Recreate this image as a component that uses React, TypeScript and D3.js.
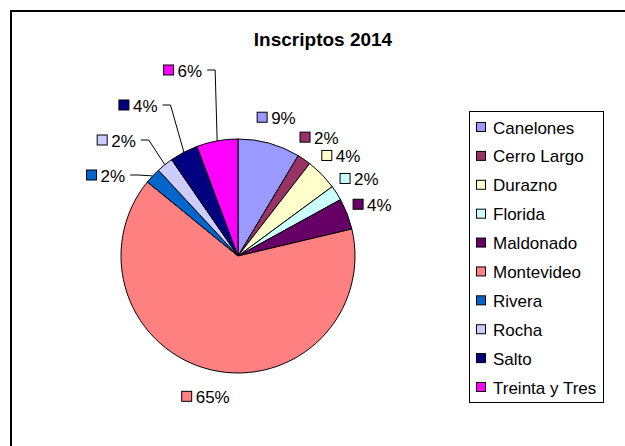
import { useEffect, useRef } from 'react'
import * as d3 from 'd3'

const title = 'Inscriptos 2014'
const departments = [
  'Canelones',
  'Cerro Largo',
  'Durazno',
  'Florida',
  'Maldonado',
  'Montevideo',
  'Rivera',
  'Rocha',
  'Salto',
  'Treinta y Tres',
]
const shares = [8.6, 1.9, 4.4, 2.1, 4.3, 64.6, 2.2, 2.3, 3.9, 5.7]
const colors = [
  '#9999FF',
  '#993366',
  '#FFFFCC',
  '#CCFFFF',
  '#660066',
  '#FF8080',
  '#0066CC',
  '#CCCCFF',
  '#000080',
  '#FF00FF',
]

const FONT = "Arial, 'Liberation Sans', sans-serif"

export default function App() {
  const ref = useRef<SVGSVGElement | null>(null)

  useEffect(() => {
    const node = ref.current
    if (!node) return
    const width = 625
    const height = 446
    const cx = 238
    const cy = 256
    const r = 117
    const svg = d3.select(node)
    svg.selectAll('*').remove()

    svg
      .append('rect')
      .attr('x', 11)
      .attr('y', 11)
      .attr('width', width + 20)
      .attr('height', height + 20)
      .attr('fill', '#fff')
      .attr('stroke', '#000')
      .attr('stroke-width', 2)

    svg
      .append('text')
      .attr('x', 323)
      .attr('y', 46)
      .attr('text-anchor', 'middle')
      .attr('font-family', FONT)
      .attr('font-weight', 'bold')
      .attr('font-size', 19)
      .text(title)

    const data = departments.map((name, i) => ({ name, value: shares[i], color: colors[i] }))
    const pie = d3
      .pie<{ name: string; value: number; color: string }>()
      .value((d) => d.value)
      .sort(null)
    const arcs = pie(data)
    const arc = d3.arc<d3.PieArcDatum<any>>().innerRadius(0).outerRadius(r)

    const g = svg.append('g').attr('transform', `translate(${cx},${cy})`)
    g.selectAll('path.slice')
      .data(arcs)
      .join('path')
      .attr('class', 'slice')
      .attr('d', arc as any)
      .attr('fill', (d) => d.data.color)
      .attr('stroke', '#000')
      .attr('stroke-width', 1)

    // labels: upper-left slices get stacked out to the side with leader lines
    const isLeader = (a: d3.PieArcDatum<any>) => (a.startAngle + a.endAngle) / 2 > (3 * Math.PI) / 2
    const nLeader = arcs.filter(isLeader).length
    let k = 0
    arcs.forEach((a) => {
      const mid = (a.startAngle + a.endAngle) / 2
      const leader = isLeader(a)
      let lx: number
      let ly: number
      if (leader) {
        const dist = r + 38 + 13 * k
        ly = -186 + 35 * (nLeader - 1 - k)
        lx = -Math.sqrt(dist * dist - ly * ly)
        k++
      } else {
        const dist = r + 27
        lx = dist * Math.sin(mid)
        ly = -dist * Math.cos(mid)
      }
      const label = `${Math.round(a.data.value)}%`

      const lg = g.append('g')
      const t = lg
        .append('text')
        .attr('font-family', FONT)
        .attr('font-size', 17)
        .attr('dominant-baseline', 'central')
        .text(label)
      const tw = (t.node() as SVGTextElement).getComputedTextLength()
      const total = 10 + 4 + tw
      const x0 = lx - total / 2
      lg.insert('rect', 'text')
        .attr('x', x0)
        .attr('y', ly - 5)
        .attr('width', 10)
        .attr('height', 10)
        .attr('fill', a.data.color)
        .attr('stroke', '#000')
        .attr('stroke-width', 1)
      t.attr('x', x0 + 14).attr('y', ly + 1)

      if (leader) {
        const right = x0 + total
        const ex = r * Math.sin(mid)
        const ey = -r * Math.cos(mid)
        const path = d3.path()
        path.moveTo(right + 5, ly)
        path.lineTo(right + 13, ly)
        path.lineTo(ex, ey)
        g.append('path')
          .attr('d', path.toString())
          .attr('fill', 'none')
          .attr('stroke', '#000')
          .attr('stroke-width', 1)
      }
    })

    // legend
    const legend = svg.append('g')
    legend
      .append('rect')
      .attr('x', 469.5)
      .attr('y', 111.5)
      .attr('width', 134)
      .attr('height', 291)
      .attr('fill', '#fff')
      .attr('stroke', '#000')
      .attr('stroke-width', 1)
    const rowY = d3.scalePoint<string>().domain(departments).range([127, 387])
    departments.forEach((name, i) => {
      const y = rowY(name) as number
      legend
        .append('rect')
        .attr('x', 476.5)
        .attr('y', y - 4.5)
        .attr('width', 9)
        .attr('height', 9)
        .attr('fill', colors[i])
        .attr('stroke', '#000')
        .attr('stroke-width', 1)
      legend
        .append('text')
        .attr('x', 493)
        .attr('y', y + 1)
        .attr('dominant-baseline', 'central')
        .attr('font-family', FONT)
        .attr('font-size', 17)
        .text(name)
    })
  }, [])

  return (
    <svg
      ref={ref}
      width={625}
      height={446}
      style={{ position: 'fixed', left: 0, top: 0, display: 'block' }}
    />
  )
}
